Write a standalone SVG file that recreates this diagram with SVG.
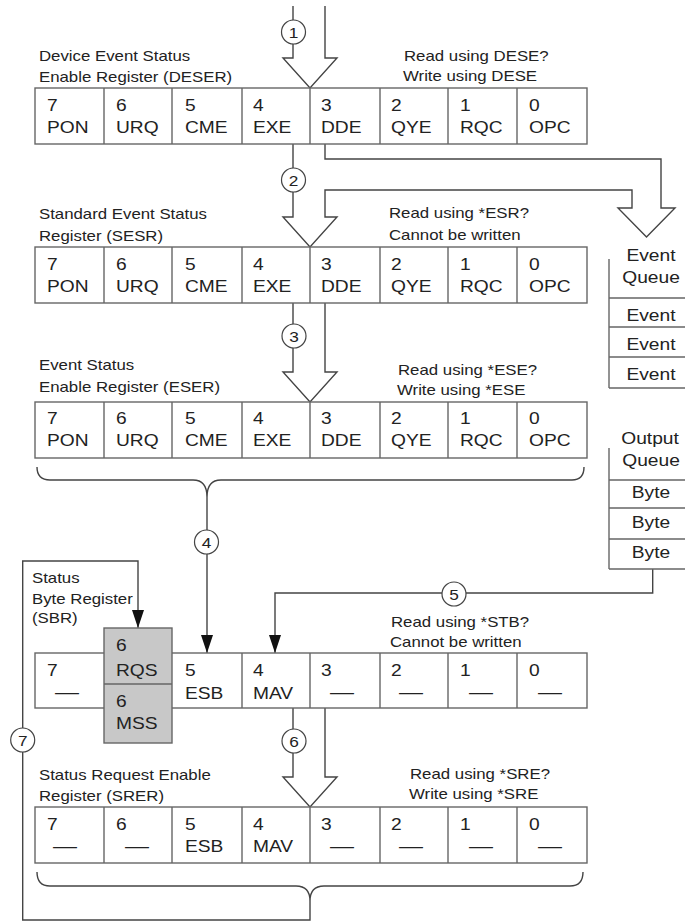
<svg xmlns="http://www.w3.org/2000/svg" width="685" height="922" viewBox="0 0 685 922">
<style>
text{font-family:"Liberation Sans",Arial,Helvetica,sans-serif;fill:#222}
.l{font-size:14px}
.c{font-size:16px}
.m{text-anchor:middle}
.n{font-size:15px;text-anchor:middle}
.box{fill:#fff;stroke:#666;stroke-width:1.4}
.cell{fill:none;stroke:#666;stroke-width:1.4}
.sh{fill:#c8c8c8;stroke:#666;stroke-width:1.4}
.conn{fill:none;stroke:#444;stroke-width:1.4}
.circ{fill:#fff;stroke:#444;stroke-width:1.2}
.q{fill:none;stroke:#666;stroke-width:1.4}
</style>
<defs>
<marker id="ah" viewBox="0 0 18 12" refX="18" refY="6" markerWidth="18" markerHeight="12" markerUnits="userSpaceOnUse" orient="auto"><path d="M0,0 L18,6 L0,12 z" fill="#111"/></marker>
</defs>
<rect width="685" height="922" fill="#fff"/>

<g id="connectors">
<path class="conn" d="M293,6 V58 H283 L310,88 L337,58 H325 V6"/>
<path class="conn" d="M293,144 V217 H283 L310,247 L337,217 H325 V190 H632 V208 H618 L646.5,237 L675,208 H661 V159 H325 V144"/>
<path class="conn" d="M293,303 V372 H283 L310,402 L337,372 H325 V303"/>
<path class="conn" d="M293,708 V777 H283 L310,807 L337,777 H325 V708"/>
<path class="conn" d="M37,467 Q37,480 50,480 H193 Q207,480 207,497 Q207,480 221,480 H572 Q584,480 584,467"/>
<path class="conn" d="M37,872 Q37,886 50,886 H296 Q310,886 310,901 Q310,886 324,886 H570 Q583,886 583,872"/>
<path class="conn" d="M207,497 V653" marker-end="url(#ah)"/>
<path class="conn" d="M652.7,569 V593 H275 V653" marker-end="url(#ah)"/>
<path class="conn" d="M310,901 V920 H22.7 V561 H138 V628" marker-end="url(#ah)"/>
<circle class="circ" cx="293.5" cy="32" r="12"/><text class="n" transform="translate(293.5,37.5) scale(1.15,1)">1</text>
<circle class="circ" cx="293.5" cy="180" r="12"/><text class="n" transform="translate(293.5,185.5) scale(1.15,1)">2</text>
<circle class="circ" cx="294" cy="336" r="12"/><text class="n" transform="translate(294,341.5) scale(1.15,1)">3</text>
<circle class="circ" cx="206.5" cy="542" r="12"/><text class="n" transform="translate(206.5,547.5) scale(1.15,1)">4</text>
<circle class="circ" cx="454" cy="594" r="12"/><text class="n" transform="translate(454,599.5) scale(1.15,1)">5</text>
<circle class="circ" cx="294" cy="741" r="12"/><text class="n" transform="translate(294,746.5) scale(1.15,1)">6</text>
<circle class="circ" cx="22.7" cy="740" r="12"/><text class="n" transform="translate(22.7,745.5) scale(1.15,1)">7</text>
</g>

<g id="deser">
<rect class="box" x="35" y="88" width="552" height="56"/>
<path class="cell" d="M104,88V144M172,88V144M242,88V144M310,88V144M380,88V144M448,88V144M517,88V144"/>
<text class="l" transform="translate(39,61) scale(1.2,1)">Device Event Status</text>
<text class="l" transform="translate(39,82) scale(1.2,1)">Enable Register (DESER)</text>
<text class="l" transform="translate(404,61) scale(1.2,1)">Read using DESE?</text>
<text class="l" transform="translate(403,81) scale(1.2,1)">Write using DESE</text>
<text class="c" transform="translate(47,111) scale(1.2,1)">7</text>
<text class="c" transform="translate(116,111) scale(1.2,1)">6</text>
<text class="c" transform="translate(185,111) scale(1.2,1)">5</text>
<text class="c" transform="translate(253,111) scale(1.2,1)">4</text>
<text class="c" transform="translate(321,111) scale(1.2,1)">3</text>
<text class="c" transform="translate(391,111) scale(1.2,1)">2</text>
<text class="c" transform="translate(460,111) scale(1.2,1)">1</text>
<text class="c" transform="translate(529,111) scale(1.2,1)">0</text>
<text class="c" transform="translate(47,133) scale(1.2,1)">PON</text>
<text class="c" transform="translate(116,133) scale(1.2,1)">URQ</text>
<text class="c" transform="translate(185,133) scale(1.2,1)">CME</text>
<text class="c" transform="translate(253,133) scale(1.2,1)">EXE</text>
<text class="c" transform="translate(321,133) scale(1.2,1)">DDE</text>
<text class="c" transform="translate(391,133) scale(1.2,1)">QYE</text>
<text class="c" transform="translate(460,133) scale(1.2,1)">RQC</text>
<text class="c" transform="translate(529,133) scale(1.2,1)">OPC</text>
</g>

<g id="sesr">
<rect class="box" x="35" y="247" width="552" height="56"/>
<path class="cell" d="M104,247V303M172,247V303M242,247V303M310,247V303M380,247V303M448,247V303M517,247V303"/>
<text class="l" transform="translate(39,219) scale(1.2,1)">Standard Event Status</text>
<text class="l" transform="translate(39,241) scale(1.2,1)">Register (SESR)</text>
<text class="l" transform="translate(389,218) scale(1.2,1)">Read using *ESR?</text>
<text class="l" transform="translate(389,240) scale(1.2,1)">Cannot be written</text>
<text class="c" transform="translate(47,270) scale(1.2,1)">7</text>
<text class="c" transform="translate(116,270) scale(1.2,1)">6</text>
<text class="c" transform="translate(185,270) scale(1.2,1)">5</text>
<text class="c" transform="translate(253,270) scale(1.2,1)">4</text>
<text class="c" transform="translate(321,270) scale(1.2,1)">3</text>
<text class="c" transform="translate(391,270) scale(1.2,1)">2</text>
<text class="c" transform="translate(460,270) scale(1.2,1)">1</text>
<text class="c" transform="translate(529,270) scale(1.2,1)">0</text>
<text class="c" transform="translate(47,292) scale(1.2,1)">PON</text>
<text class="c" transform="translate(116,292) scale(1.2,1)">URQ</text>
<text class="c" transform="translate(185,292) scale(1.2,1)">CME</text>
<text class="c" transform="translate(253,292) scale(1.2,1)">EXE</text>
<text class="c" transform="translate(321,292) scale(1.2,1)">DDE</text>
<text class="c" transform="translate(391,292) scale(1.2,1)">QYE</text>
<text class="c" transform="translate(460,292) scale(1.2,1)">RQC</text>
<text class="c" transform="translate(529,292) scale(1.2,1)">OPC</text>
</g>

<g id="eser">
<rect class="box" x="35" y="402" width="552" height="56"/>
<path class="cell" d="M104,402V458M172,402V458M242,402V458M310,402V458M380,402V458M448,402V458M517,402V458"/>
<text class="l" transform="translate(39,370) scale(1.2,1)">Event Status</text>
<text class="l" transform="translate(39,392) scale(1.2,1)">Enable Register (ESER)</text>
<text class="l" transform="translate(398,375) scale(1.2,1)">Read using *ESE?</text>
<text class="l" transform="translate(397,395) scale(1.2,1)">Write using *ESE</text>
<text class="c" transform="translate(47,424) scale(1.2,1)">7</text>
<text class="c" transform="translate(116,424) scale(1.2,1)">6</text>
<text class="c" transform="translate(185,424) scale(1.2,1)">5</text>
<text class="c" transform="translate(253,424) scale(1.2,1)">4</text>
<text class="c" transform="translate(321,424) scale(1.2,1)">3</text>
<text class="c" transform="translate(391,424) scale(1.2,1)">2</text>
<text class="c" transform="translate(460,424) scale(1.2,1)">1</text>
<text class="c" transform="translate(529,424) scale(1.2,1)">0</text>
<text class="c" transform="translate(47,446) scale(1.2,1)">PON</text>
<text class="c" transform="translate(116,446) scale(1.2,1)">URQ</text>
<text class="c" transform="translate(185,446) scale(1.2,1)">CME</text>
<text class="c" transform="translate(253,446) scale(1.2,1)">EXE</text>
<text class="c" transform="translate(321,446) scale(1.2,1)">DDE</text>
<text class="c" transform="translate(391,446) scale(1.2,1)">QYE</text>
<text class="c" transform="translate(460,446) scale(1.2,1)">RQC</text>
<text class="c" transform="translate(529,446) scale(1.2,1)">OPC</text>
</g>

<g id="event-queue">
<path class="q" d="M609,259 V388 M609,298 H685 M609,327 H685 M609,357 H685 M609,388 H685"/>
<text class="c m" transform="translate(651,261) scale(1.2,1)">Event</text>
<text class="c m" transform="translate(651,283) scale(1.2,1)">Queue</text>
<text class="c m" transform="translate(651,321) scale(1.2,1)">Event</text>
<text class="c m" transform="translate(651,350) scale(1.2,1)">Event</text>
<text class="c m" transform="translate(651,380) scale(1.2,1)">Event</text>
</g>

<g id="output-queue">
<path class="q" d="M609,448 V569 M609,480 H685 M609,508 H685 M609,539 H685 M609,569 H685"/>
<text class="c m" transform="translate(650,444) scale(1.2,1)">Output</text>
<text class="c m" transform="translate(651,466) scale(1.2,1)">Queue</text>
<text class="c m" transform="translate(651,498) scale(1.2,1)">Byte</text>
<text class="c m" transform="translate(651,528) scale(1.2,1)">Byte</text>
<text class="c m" transform="translate(651,558) scale(1.2,1)">Byte</text>
</g>

<g id="sbr">
<rect class="box" x="35" y="653" width="552" height="55"/>
<path class="cell" d="M242,653V708M310,653V708M380,653V708M448,653V708M517,653V708"/>
<rect class="sh" x="104" y="628" width="68" height="115"/>
<path class="cell" d="M104,684H172"/>
<text class="l" transform="translate(32,583) scale(1.2,1)">Status</text>
<text class="l" transform="translate(32,604) scale(1.2,1)">Byte Register</text>
<text class="l" transform="translate(32,623) scale(1.2,1)">(SBR)</text>
<text class="l" transform="translate(391,627) scale(1.2,1)">Read using *STB?</text>
<text class="l" transform="translate(390,647) scale(1.2,1)">Cannot be written</text>
<text class="c" transform="translate(47,676) scale(1.2,1)">7</text>
<text class="c" transform="translate(116,651) scale(1.2,1)">6</text>
<text class="c" transform="translate(116,676) scale(1.2,1)">RQS</text>
<text class="c" transform="translate(116,707) scale(1.2,1)">6</text>
<text class="c" transform="translate(116,729) scale(1.2,1)">MSS</text>
<text class="c" transform="translate(185,676) scale(1.2,1)">5</text>
<text class="c" transform="translate(253,676) scale(1.2,1)">4</text>
<text class="c" transform="translate(321,676) scale(1.2,1)">3</text>
<text class="c" transform="translate(391,676) scale(1.2,1)">2</text>
<text class="c" transform="translate(460,676) scale(1.2,1)">1</text>
<text class="c" transform="translate(529,676) scale(1.2,1)">0</text>
<text class="c" transform="translate(185,699) scale(1.2,1)">ESB</text>
<text class="c" transform="translate(253,699) scale(1.2,1)">MAV</text>
<text class="c m" transform="translate(67,698) scale(1.5,1)">—</text>
<text class="c m" transform="translate(342,698) scale(1.5,1)">—</text>
<text class="c m" transform="translate(411,698) scale(1.5,1)">—</text>
<text class="c m" transform="translate(481,698) scale(1.5,1)">—</text>
<text class="c m" transform="translate(550,698) scale(1.5,1)">—</text>
</g>

<g id="srer">
<rect class="box" x="35" y="807" width="552" height="56"/>
<path class="cell" d="M104,807V863M172,807V863M242,807V863M310,807V863M380,807V863M448,807V863M517,807V863"/>
<text class="l" transform="translate(39,780) scale(1.2,1)">Status Request Enable</text>
<text class="l" transform="translate(39,801) scale(1.2,1)">Register (SRER)</text>
<text class="l" transform="translate(410,779) scale(1.2,1)">Read using *SRE?</text>
<text class="l" transform="translate(409,799) scale(1.2,1)">Write using *SRE</text>
<text class="c" transform="translate(47,830) scale(1.2,1)">7</text>
<text class="c" transform="translate(116,830) scale(1.2,1)">6</text>
<text class="c" transform="translate(185,830) scale(1.2,1)">5</text>
<text class="c" transform="translate(253,830) scale(1.2,1)">4</text>
<text class="c" transform="translate(321,830) scale(1.2,1)">3</text>
<text class="c" transform="translate(391,830) scale(1.2,1)">2</text>
<text class="c" transform="translate(460,830) scale(1.2,1)">1</text>
<text class="c" transform="translate(529,830) scale(1.2,1)">0</text>
<text class="c" transform="translate(185,852) scale(1.2,1)">ESB</text>
<text class="c" transform="translate(253,852) scale(1.2,1)">MAV</text>
<text class="c m" transform="translate(65,852) scale(1.5,1)">—</text>
<text class="c m" transform="translate(137,852) scale(1.5,1)">—</text>
<text class="c m" transform="translate(342,852) scale(1.5,1)">—</text>
<text class="c m" transform="translate(411,852) scale(1.5,1)">—</text>
<text class="c m" transform="translate(481,852) scale(1.5,1)">—</text>
<text class="c m" transform="translate(550,852) scale(1.5,1)">—</text>
</g>
</svg>
